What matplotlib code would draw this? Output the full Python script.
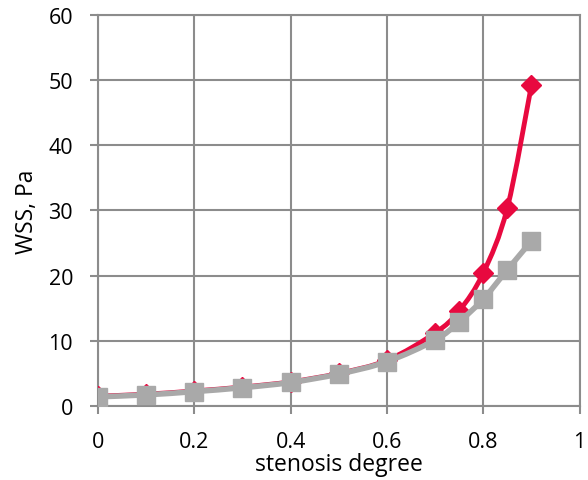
import matplotlib
matplotlib.use("Agg")
import matplotlib.pyplot as plt
from matplotlib.path import Path
import matplotlib.patches as patches
import numpy as np

plt.rcParams['font.family'] = ['Open Sans', 'DejaVu Sans']

stenosis = [0, 0.1, 0.2, 0.3, 0.4, 0.5, 0.6, 0.7, 0.75, 0.8, 0.85, 0.9]
wss_red = [1.5, 1.8, 2.3, 2.9, 3.7, 5.0, 7.0, 11.2, 14.6, 20.4, 30.4, 49.2]
wss_gray = [1.4, 1.7, 2.2, 2.8, 3.6, 4.9, 6.8, 10.1, 12.9, 16.4, 20.9, 25.3]

x_ticks = [0, 0.2, 0.4, 0.6, 0.8, 1]
x_labels = ["0", "0.2", "0.4", "0.6", "0.8", "1"]
y_ticks = [0, 10, 20, 30, 40, 50, 60]

RED = "#E8093F"
GRAY = "#A9A9A9"
GRID = "#8C8C8C"


def smooth_path(xs, ys, t=1/6):
    # catmull-rom turned into cubic bezier segments, like Excel "smoothed line"
    pts = np.column_stack([xs, ys])
    verts = [pts[0]]
    codes = [Path.MOVETO]
    n = len(pts)
    for i in range(n - 1):
        p0 = pts[i - 1] if i > 0 else pts[i]
        p1 = pts[i]
        p2 = pts[i + 1]
        p3 = pts[i + 2] if i + 2 < n else pts[i + 1]
        c1 = p1 + (p2 - p0) * t
        c2 = p2 - (p3 - p1) * t
        verts += [c1, c2, p2]
        codes += [Path.CURVE4] * 3
    return Path(verts, codes)


fig = plt.figure(figsize=(5.88, 4.81), dpi=100)
ax = fig.add_axes([0.1667, 0.154, 0.819, 0.813])

ax.add_patch(patches.PathPatch(smooth_path(stenosis, wss_red), fill=False,
                               ec=RED, lw=3.5, zorder=3, capstyle='round'))
ax.plot(stenosis, wss_red, ls='none', marker='D', ms=10, color=RED, zorder=4)

ax.add_patch(patches.PathPatch(smooth_path(stenosis, wss_gray), fill=False,
                               ec=GRAY, lw=4, zorder=5))
ax.plot(stenosis, wss_gray, ls='none', marker='s', ms=13.5, color=GRAY, zorder=6)

ax.set_xlim(0, 1)
ax.set_ylim(0, 60)
ax.set_xticks(x_ticks)
ax.set_xticklabels(x_labels)
ax.set_yticks(y_ticks)
ax.grid(True, color=GRID, lw=1.5)
ax.set_axisbelow(True)
for s in ax.spines.values():
    s.set_color(GRID)
    s.set_linewidth(1.5)
ax.tick_params(colors=GRID, length=6, width=1.5, labelcolor="black",
               labelsize=15.5)
ax.tick_params(axis='x', pad=12)
ax.tick_params(axis='y', pad=12)
ax.set_xlabel("stenosis degree", fontsize=16.5, labelpad=0)
ax.set_ylabel("WSS, Pa", fontsize=16.5, labelpad=7)

fig.savefig("out.png", dpi=100)
